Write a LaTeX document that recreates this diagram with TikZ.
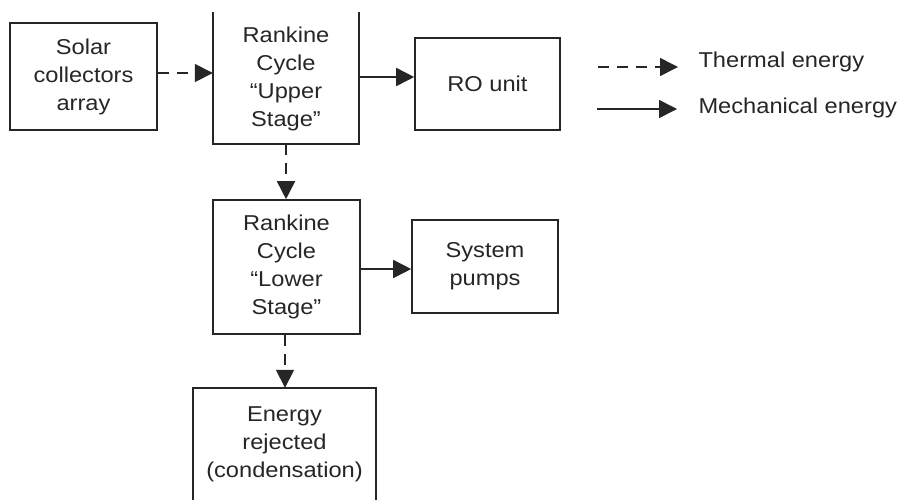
\documentclass[tikz,border=0pt]{standalone}
\usepackage{fontspec}
\setmainfont{Liberation Sans}[FakeStretch=1.1]
\usetikzlibrary{arrows.meta}
\begin{document}
\begin{tikzpicture}[x=1pt,y=-1pt,
  every node/.style={font=\fontsize{21.5}{28}\selectfont, text=black!85, align=center},
  box/.style={rectangle, draw=black!85, line width=1.6pt, inner sep=0pt},
  openbox/.style={rectangle, draw=none, inner sep=0pt},
  side/.style={line width=1.6pt, draw=black!85, line cap=rect},
  edge/.style={line width=1.6pt, draw=black!85, -{Triangle[length=18pt,width=18pt]}},
  therm/.style={edge, dash pattern=on 11pt off 8pt},
  mech/.style={edge},
  legtext/.style={anchor=west}]
\useasboundingbox (0,0) rectangle (909,499);
\fill[white] (0,0) rectangle (909,499);
\node[box, minimum width=147pt, minimum height=107pt] (solar) at (83.5,76.5) {Solar\\collectors\\array};
\node[openbox, minimum width=146pt, minimum height=131pt] (up) at (286,78.5) {Rankine\\Cycle\\``Upper\\Stage''};
\draw[side] (up.north west) -- (up.south west) -- (up.south east) -- (up.north east);
\node[box, minimum width=145pt, minimum height=92pt] (ro) at (487.5,84) {RO unit};
\node[box, minimum width=147pt, minimum height=134pt] (low) at (286.5,267) {Rankine\\Cycle\\``Lower\\Stage''};
\node[box, minimum width=146pt, minimum height=93pt] (pu) at (485,266.5) {System\\pumps};
\node[openbox, minimum width=183pt, minimum height=113pt] (en) at (284.5,444.5) {Energy\\rejected\\(condensation)};
\draw[side] (en.south west) -- (en.north west) -- (en.north east) -- (en.south east);
\draw[therm] ([yshift=3.5pt]solar.east) -- ([yshift=3.5pt]solar.east -| up.west);
\draw[mech] ([yshift=1.5pt]up.east) -- ([yshift=1.5pt]up.east -| ro.west);
\draw[therm] (up.south) -- (up.south |- low.north);
\draw[mech] ([yshift=-2pt]low.east) -- ([yshift=-2pt]low.east -| pu.west);
\draw[therm] ([xshift=-1.5pt]low.south) -- ([xshift=-1.5pt]low.south |- en.north);
\coordinate (l1s) at (598,67);
\coordinate (l1e) at (678,67);
\coordinate (l2s) at (597,109);
\coordinate (l2e) at (677,109);
\draw[therm] (l1s) -- (l1e);
\draw[mech] (l2s) -- (l2e);
\node[legtext] (t1) at (695,62) {Thermal energy};
\node[legtext] (t2) at (695,108) {Mechanical energy};
\end{tikzpicture}
\end{document}
